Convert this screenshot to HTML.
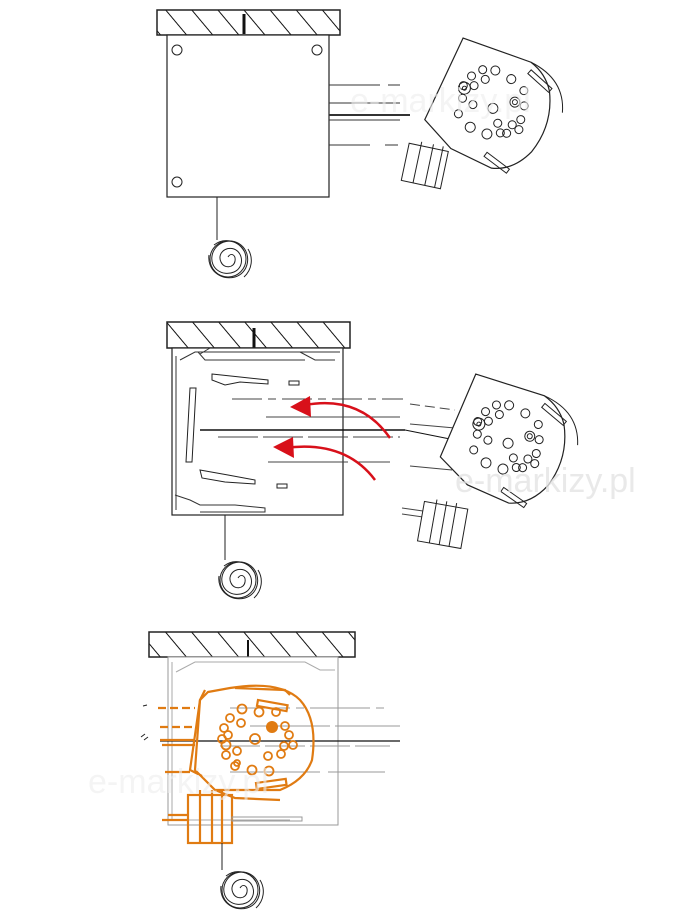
<!DOCTYPE html>
<html><head><meta charset="utf-8"><style>
html,body{margin:0;padding:0;background:#fff;}
svg{display:block}
</style></head><body>
<svg width="700" height="924" viewBox="0 0 700 924" xmlns="http://www.w3.org/2000/svg">
<defs>
<pattern id="hatch" patternUnits="userSpaceOnUse" width="20" height="20" patternTransform="rotate(-40)">
<rect width="20" height="20" fill="#fff"/>
<line x1="0" y1="0" x2="0" y2="20" stroke="#111" stroke-width="2"/>
</pattern>
<g id="mount">
<path d="M-50,-52 L22,-55 Q40,-50 50,-35 Q66,-5 56,28 Q46,52 25,58 L-20,55 L-55,38 Z" fill="#fff" stroke-width="1.2"/>
<path d="M22,-55 Q60,-52 70,-20" fill="none"/>
<rect x="25" y="-48" width="28" height="5" transform="rotate(20 25 -48)" fill="none"/>
<rect x="15" y="45" width="28" height="5" transform="rotate(15 15 45)" fill="none"/>
<g fill="none" stroke-width="1">
<circle cx="-28" cy="-20" r="4"/><circle cx="-20" cy="-30" r="4"/><circle cx="-8" cy="-34" r="4.5"/><circle cx="10" cy="-32" r="4.5"/><circle cx="26" cy="-26" r="4"/>
<circle cx="-32" cy="-8" r="4"/><circle cx="-22" cy="-12" r="4"/><circle cx="-14" cy="-22" r="4"/>
<circle cx="-28" cy="4" r="4"/><circle cx="-16" cy="6" r="4"/><circle cx="4" cy="2" r="5"/>
<circle cx="32" cy="-12" r="4"/><circle cx="34" cy="2" r="4"/><circle cx="28" cy="10" r="4"/><circle cx="36" cy="12" r="4"/>
<circle cx="-26" cy="20" r="4"/><circle cx="-10" cy="28" r="5"/><circle cx="8" cy="28" r="5"/><circle cx="20" cy="22" r="4"/><circle cx="26" cy="20" r="4"/><circle cx="14" cy="14" r="4"/>
<circle cx="-30" cy="-6" r="6"/><circle cx="-30" cy="-6" r="2"/>
</g>
<circle cx="22" cy="-12" r="5" fill="none"/><circle cx="22" cy="-12" r="2.5" fill="none"/>
</g>
<g id="spiral" fill="none" stroke="#222" stroke-width="1">
<path d="M0,0 c3,-5 8,-2 7,4 c-1,7 -11,8 -14,1 c-4,-8 4,-16 13,-13 c10,4 10,19 0,23 c-12,5 -24,-4 -22,-16 c2,-13 18,-20 29,-11 c11,9 8,28 -6,32 c-15,4 -28,-8 -26,-22"/>
<circle cx="0" cy="2" r="18"/>
<path d="M-14,-12 a20,20 0 0 1 30,6"/>
<path d="M20,-8 a22,22 0 0 1 -4,28"/>
</g>
</defs>

<!-- PANEL 1 -->
<rect x="157" y="10" width="183" height="25" fill="url(#hatch)" stroke="#222" stroke-width="1.5"/>
<line x1="244" y1="14" x2="244" y2="34" stroke="#111" stroke-width="3"/>
<rect x="167" y="35" width="162" height="162" fill="#fff" stroke="#222" stroke-width="1.2"/>
<g fill="none" stroke="#222"><circle cx="177" cy="50" r="5"/><circle cx="317" cy="50" r="5"/><circle cx="177" cy="182" r="5"/></g>
<line x1="217" y1="197" x2="217" y2="240" stroke="#222"/>
<use href="#spiral" x="228" y="257"/>
<g stroke="#333" stroke-width="1">
<line x1="329" y1="85" x2="380" y2="85"/><line x1="388" y1="85" x2="400" y2="85"/>
<line x1="329" y1="103" x2="400" y2="103"/>
<line x1="329" y1="115" x2="410" y2="115" stroke-width="2"/><line x1="329" y1="120" x2="400" y2="120"/>
<line x1="329" y1="145" x2="370" y2="145"/><line x1="385" y1="145" x2="398" y2="145"/>
</g>
<g stroke="#222" transform="translate(490,105) rotate(22)"><use href="#mount"/></g>
<g fill="#fff" stroke="#222" transform="translate(425,165) rotate(12)">
<rect x="-20" y="-18" width="40" height="38"/><line x1="-8" y1="-22" x2="-8" y2="20"/><line x1="4" y1="-22" x2="4" y2="20"/><line x1="14" y1="-22" x2="14" y2="20"/>
</g>
<text x="350" y="112" font-family="Liberation Sans, sans-serif" font-size="34" fill="#eeeeee" opacity="0.6">e-markizy.pl</text>

<!-- PANEL 2 -->
<rect x="167" y="322" width="183" height="26" fill="url(#hatch)" stroke="#222" stroke-width="1.5"/>
<line x1="254" y1="328" x2="254" y2="348" stroke="#111" stroke-width="3"/>
<rect x="172" y="348" width="171" height="167" fill="#fff" stroke="#222" stroke-width="1.2"/>
<path d="M176,356 L176,510 M180,360 L195,352 L340,352 M200,354 L210,348 M300,352 L315,360 L335,360" fill="none" stroke="#333"/>
<path d="M198,352 L205,360 L305,360" fill="none" stroke="#333"/>
<polygon points="190,388 196,388 192,462 186,462" fill="#fff" stroke="#222"/>
<path d="M212,374 L240,377 L268,380 L268,384 L240,382 L225,385 L212,380 Z" fill="#fff" stroke="#222"/>
<path d="M200,470 L228,475 L255,480 L255,484 L225,482 L202,478 Z" fill="#fff" stroke="#222"/>
<rect x="289" y="381" width="10" height="4" fill="none" stroke="#222"/><rect x="277" y="484" width="10" height="4" fill="none" stroke="#222"/>
<path d="M175,495 L190,500 L200,505 L235,505 L265,508 L265,512 L200,512" fill="none" stroke="#333"/>
<line x1="225" y1="515" x2="225" y2="560" stroke="#222"/>
<use href="#spiral" x="238" y="578"/>
<g stroke="#444" stroke-width="1">
<line x1="232" y1="399" x2="403" y2="399" stroke-dasharray="30,6,8,6"/>
<line x1="266" y1="417" x2="400" y2="417"/>
<line x1="200" y1="430" x2="405" y2="430" stroke="#111" stroke-width="1.5"/>
<line x1="218" y1="437" x2="400" y2="437" stroke-dasharray="40,5"/>
<line x1="268" y1="462" x2="390" y2="462" stroke-dasharray="80,10"/>
<line x1="410" y1="404" x2="455" y2="410" stroke-dasharray="10,5"/>
<line x1="410" y1="424" x2="455" y2="428"/>
<line x1="405" y1="430" x2="455" y2="440" stroke="#111"/>
<line x1="410" y1="466" x2="452" y2="470"/>
<line x1="402" y1="508" x2="430" y2="512"/>
<line x1="402" y1="514" x2="430" y2="518"/>
</g>
<g fill="none" stroke="#d8101a" stroke-width="2.5">
<path d="M390,438 Q360,395 305,405"/><path d="M375,480 Q345,440 285,448"/>
</g>
<polygon points="290,407 310,396 311,417" fill="#d8101a"/>
<polygon points="273,447 293,437 294,458" fill="#d8101a"/>
<g stroke="#222" transform="translate(505,440) rotate(20)"><use href="#mount"/></g>
<g fill="#fff" stroke="#222" transform="translate(443,523) rotate(10)">
<rect x="-22" y="-18" width="44" height="40"/><line x1="-10" y1="-22" x2="-10" y2="22"/><line x1="0" y1="-22" x2="0" y2="22"/><line x1="10" y1="-22" x2="10" y2="22"/>
</g>
<text x="455" y="492" font-family="Liberation Sans, sans-serif" font-size="34" fill="#e4e4e4" opacity="0.8">e-markizy.pl</text>

<!-- PANEL 3 -->
<rect x="149" y="632" width="206" height="25" fill="url(#hatch)" stroke="#222" stroke-width="1.5"/>
<line x1="248" y1="640" x2="248" y2="657" stroke="#111" stroke-width="2"/>
<rect x="168" y="657" width="170" height="168" fill="#fff" stroke="#999" stroke-width="1"/>
<path d="M172,662 L172,820 L290,820 M176,672 L195,662 L305,662 L320,670 L335,670" fill="none" stroke="#aaa"/>
<g stroke="#999" stroke-width="1">
<line x1="230" y1="708" x2="390" y2="708" stroke-dasharray="60,6,8,6"/>
<line x1="250" y1="726" x2="400" y2="726" stroke-dasharray="80,5"/>
<line x1="160" y1="741" x2="400" y2="741" stroke="#111" stroke-width="1.2"/>
<line x1="220" y1="746" x2="390" y2="746" stroke-dasharray="40,5"/>
<line x1="230" y1="772" x2="385" y2="772" stroke-dasharray="90,8"/>
</g>
<g stroke="#e07b12" fill="none" stroke-width="2.2">
<path d="M208,692 L230,688 Q280,680 300,700 Q318,720 312,760 Q305,780 280,790 L215,790 L195,770 L200,700 Z"/>
<path d="M205,690 L200,700 L190,770 L202,776 M215,790 L235,798 L280,800 M235,688 L285,690 L290,695"/>
<rect x="258" y="700" width="30" height="6" transform="rotate(10 258 700)"/>
<rect x="256" y="783" width="30" height="6" transform="rotate(-8 256 783)"/>
<g stroke-width="1.8">
<circle cx="242" cy="709" r="4.5"/><circle cx="259" cy="712" r="4.5"/><circle cx="276" cy="712" r="4"/><circle cx="230" cy="718" r="4"/><circle cx="241" cy="723" r="4"/><circle cx="224" cy="728" r="4"/><circle cx="285" cy="726" r="4"/><circle cx="228" cy="735" r="4"/><circle cx="222" cy="739" r="4"/><circle cx="255" cy="739" r="5"/><circle cx="289" cy="735" r="4"/><circle cx="284" cy="746" r="4"/><circle cx="293" cy="745" r="4"/><circle cx="226" cy="745" r="4.5"/><circle cx="237" cy="751" r="4"/><circle cx="268" cy="756" r="4"/><circle cx="281" cy="754" r="4"/><circle cx="226" cy="755" r="4"/><circle cx="235" cy="766" r="4"/><circle cx="252" cy="770" r="4.5"/><circle cx="269" cy="771" r="4.5"/><circle cx="237" cy="763" r="3"/>
</g>
<line x1="158" y1="708" x2="195" y2="708" stroke-dasharray="8,4"/>
<line x1="160" y1="727" x2="193" y2="727" stroke-dasharray="8,4"/>
<line x1="160" y1="740" x2="195" y2="740"/><line x1="162" y1="745" x2="195" y2="745"/>
<line x1="165" y1="772" x2="190" y2="772"/>
<rect x="188" y="795" width="44" height="48"/>
<line x1="200" y1="790" x2="200" y2="843"/><line x1="212" y1="790" x2="212" y2="843"/><line x1="222" y1="790" x2="222" y2="843"/>
<line x1="168" y1="815" x2="188" y2="815"/><line x1="162" y1="820" x2="188" y2="820"/>
</g>
<circle cx="272" cy="727" r="6" fill="#e07b12"/>
<path d="M143,706 l4,-1 M141,737 l4,-3 M144,740 l4,-3" stroke="#222"/>
<rect x="232" y="817" width="70" height="4" fill="none" stroke="#999"/>
<line x1="222" y1="843" x2="222" y2="870" stroke="#222"/>
<use href="#spiral" x="240" y="888"/>
<text x="88" y="793" font-family="Liberation Sans, sans-serif" font-size="34" fill="#eeeeee" opacity="0.6">e-markizy.pl</text>
</svg>
</body></html>
